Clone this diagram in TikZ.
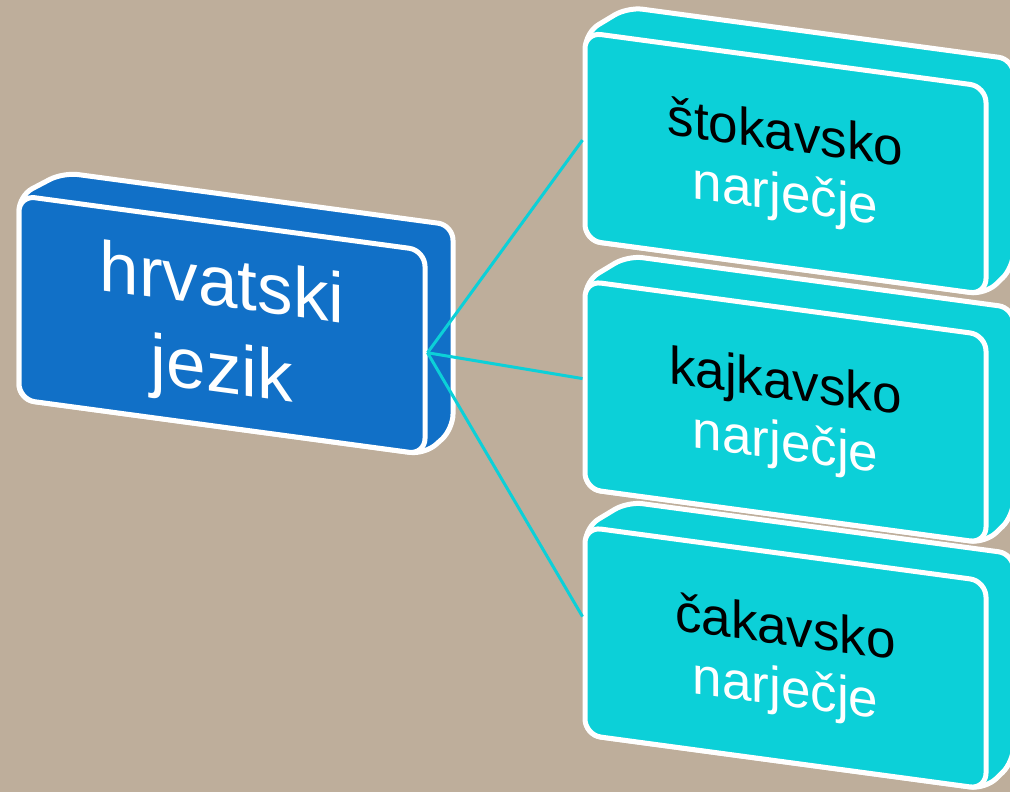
\documentclass[tikz,border=0pt]{standalone}
\usepackage{fontspec}
\setmainfont{Liberation Sans}
\definecolor{paper}{RGB}{190,174,155}
\definecolor{langblue}{RGB}{17,112,199}
\definecolor{dialcyan}{RGB}{12,208,216}

\begin{document}
\begin{tikzpicture}[
    x=1pt, y=-1pt,
    face/.style={draw=white, line width=5pt, rounded corners=16pt, inner sep=0pt, align=center, transform shape},
    slab/.style={draw=white, line width=5pt, rounded corners=15pt},
    branch/.style={dialcyan, line width=3pt},
    langfont/.style={font=\fontsize{71}{86}\selectfont},
    dialfont/.style={font=\fontsize{53}{61}\selectfont}
]

    \useasboundingbox (0,0) rectangle (1010,792);
    \clip (0,0) rectangle (1010,792);
    \fill[paper] (0,0) rectangle (1010,792);

    % Draw language block
    \begin{scope}[shift={(222,325)}, yslant=-0.135]
        \fill[langblue, slab] (-203,102) -- (-203,-102) -- (-159,-131) -- (231,-131) -- (231,73) -- (203,102) -- cycle;
        \node[face, fill=langblue, text=white, langfont, minimum width=406, minimum height=204] (hr) at (0,0) {\rule{0pt}{64pt}hrvatski\\jezik};
    \end{scope}

    % Draw dialect blocks
    \foreach \name/\ypos/\first in {sto/163.5/štokavsko, kaj/412/kajkavsko, cak/658/čakavsko} {
        \begin{scope}[shift={(785.5,\ypos)}, yslant=-0.135]
            \fill[dialcyan, slab] (-200,104) -- (-200,-104) -- (-158,-135) -- (228,-135) -- (228,73) -- (200,104) -- cycle;
            \node[face, fill=dialcyan, text=white, dialfont, minimum width=401, minimum height=208] (\name) at (0,0) {\rule{0pt}{46pt}\textcolor{black}{\first}\\narječje};
        \end{scope}
    }

    % Draw branches
    \draw[branch] (hr.east) -- ([yshift=-4pt]sto.west);
    \draw[branch] (hr.east) -- ([yshift=6pt]kaj.west);
    \draw[branch] (hr.east) -- ([yshift=14pt]cak.west);

\end{tikzpicture}
\end{document}
